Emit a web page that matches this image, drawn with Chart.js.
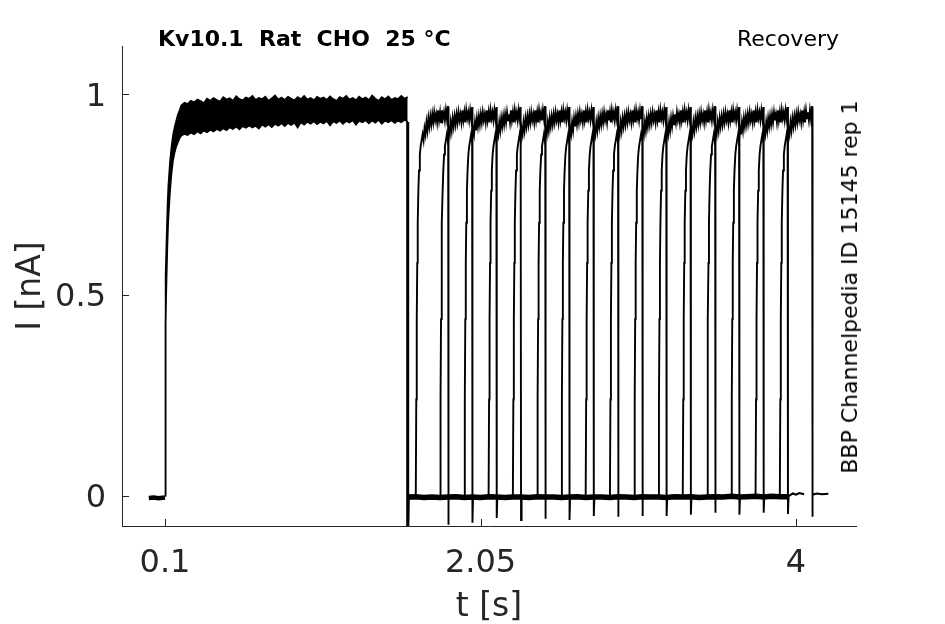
<!DOCTYPE html>
<html lang="en">
<head>
    <meta charset="UTF-8">
    <title>Kv10.1 Recovery</title>
    <script src="https://cdn.jsdelivr.net/npm/chart.js@4.4.0/dist/chart.umd.min.js"></script>
    <style>
        * { box-sizing: border-box; }
        body { margin: 0; background: #fff; }
        #wrap { position: relative; width: 945px; height: 624px; }
        .note { position: absolute; font-family: "DejaVu Sans", sans-serif; font-size: 22px;
                line-height: 22px; white-space: pre; color: #000; }
        #title { left: 158px; top: 28px; font-weight: bold; }
        #rec { right: 106px; top: 28px; }
        #side { left: 850px; top: 287px; transform: translate(-50%, -50%) rotate(-90deg); }
    </style>
</head>
<body>
<div id="wrap">
    <canvas id="chart" width="945" height="624"></canvas>
    <div class="note" id="title">Kv10.1  Rat  CHO  25 °C</div>
    <div class="note" id="rec">Recovery</div>
    <div class="note" id="side">BBP Channelpedia ID 15145 rep 1</div>
</div>

<script>
    // ---- data (time in s, current in nA) ----
    const xTicks = [0.1, 2.05, 4];
    const yTicks = [0, 0.5, 1];

    // prepulse: upper and lower edge of the overlaid sweeps
    const prepulseTimes = [0.1, 0.101, 0.103, 0.106, 0.11, 0.115, 0.12, 0.13, 0.14, 0.15, 0.16, 0.17, 0.18, 0.19,
        0.20, 0.22, 0.24, 0.26, 0.28, 0.30, 0.32, 0.34, 0.36, 0.38, 0.40, 0.42, 0.44, 0.46, 0.48,
        0.50, 0.52, 0.54, 0.56, 0.58, 0.60, 0.62, 0.64, 0.66, 0.68, 0.70, 0.72, 0.74, 0.76, 0.78,
        0.80, 0.82, 0.84, 0.86, 0.88, 0.90, 0.92, 0.94, 0.96, 0.98, 1.00, 1.02, 1.04, 1.06, 1.08,
        1.10, 1.12, 1.14, 1.16, 1.18, 1.20, 1.22, 1.24, 1.26, 1.28, 1.30, 1.32, 1.34, 1.36, 1.38,
        1.40, 1.42, 1.44, 1.46, 1.48, 1.50, 1.52, 1.54, 1.56, 1.58, 1.60];
    const prepulseUpper = [0, 0.22, 0.40, 0.55, 0.65, 0.72, 0.77, 0.83, 0.87, 0.90, 0.92, 0.935, 0.95, 0.96,
        0.972, 0.979, 0.976, 0.984, 0.980, 0.987, 0.983, 0.978, 0.989, 0.984, 0.991, 0.986, 0.982, 0.993, 0.987,
        0.990, 0.984, 0.995, 0.988, 0.985, 0.992, 0.989, 0.996, 0.986, 0.991, 0.988, 0.994, 0.984, 0.990, 0.997,
        0.987, 0.992, 0.986, 0.994, 0.989, 0.985, 0.993, 0.988, 0.996, 0.987, 0.991, 0.985, 0.994, 0.989, 0.992,
        0.986, 0.995, 0.988, 0.984, 0.993, 0.989, 0.996, 0.987, 0.991, 0.985, 0.994, 0.988, 0.992, 0.986, 0.997,
        0.989, 0.984, 0.993, 0.988, 0.995, 0.986, 0.991, 0.988, 0.996, 0.989, 0.993];
    const prepulseLower = [0, 0.15, 0.30, 0.43, 0.54, 0.62, 0.68, 0.75, 0.80, 0.835, 0.855, 0.87, 0.88, 0.89,
        0.896, 0.901, 0.898, 0.904, 0.900, 0.907, 0.902, 0.909, 0.905, 0.911, 0.907, 0.913, 0.909, 0.915, 0.910,
        0.917, 0.913, 0.919, 0.912, 0.920, 0.916, 0.922, 0.917, 0.921, 0.914, 0.924, 0.919, 0.925, 0.918, 0.926,
        0.921, 0.927, 0.920, 0.928, 0.923, 0.929, 0.917, 0.930, 0.924, 0.931, 0.926, 0.932, 0.925, 0.931, 0.927,
        0.933, 0.922, 0.932, 0.928, 0.934, 0.926, 0.933, 0.929, 0.935, 0.924, 0.933, 0.930, 0.935, 0.927, 0.934,
        0.929, 0.936, 0.926, 0.934, 0.930, 0.935, 0.928, 0.934, 0.930, 0.936, 0.931];

    // holding level before the prepulse
    const preBaseTimes = [0.0, 0.03, 0.06, 0.1];
    const preBaseValues = [-0.005, -0.004, -0.006, -0.004];

    // holding level after the prepulse (all sweeps overlaid)
    const baseTimes = [1.60, 1.65, 1.70, 1.75, 1.80, 1.85, 1.90, 1.95, 2.00, 2.05, 2.10, 2.15, 2.20, 2.25, 2.30, 2.35,
        2.40, 2.45, 2.50, 2.55, 2.60, 2.65, 2.70, 2.75, 2.80, 2.85, 2.90, 2.95, 3.00, 3.05, 3.10, 3.15,
        3.20, 3.25, 3.30, 3.35, 3.40, 3.45, 3.50, 3.55, 3.60, 3.65, 3.70, 3.75, 3.80, 3.85, 3.90, 3.95];
    const baseValues = [-0.003, -0.002, -0.004, -0.003, -0.004, -0.003, -0.002, -0.004, -0.003, -0.004, -0.002, -0.003,
        -0.004, -0.003, -0.003, -0.004, -0.002, -0.003, -0.003, -0.004, -0.003, -0.002, -0.004, -0.003,
        -0.003, -0.004, -0.002, -0.003, -0.004, -0.002, -0.003, -0.003, -0.004, -0.002, -0.003, -0.002,
        -0.004, -0.003, -0.002, -0.003, -0.001, -0.003, -0.002, -0.001, -0.003, -0.001, -0.002, -0.002];
    // last two sweeps only
    const endBaseTimes = [3.95, 3.98, 4.00, 4.02, 4.05, null, 4.10, 4.13, 4.16, 4.20];
    const endBaseValues = [-0.002, 0.006, 0.003, 0.007, 0.004, null, 0.003, 0.006, 0.004, 0.005];

    // prepulse end (tail goes off the axis)
    const prepulseOff = 1.6;
    const prepulseTail = -0.1;

    // test pulses: start time of each sweep, tail minimum after each pulse
    const testStarts = [1.65, 1.80, 1.95, 2.10, 2.25, 2.40, 2.55, 2.70, 2.85, 3.00, 3.15, 3.30, 3.45, 3.60, 3.75, 3.90];
    const testTails = [-0.072, -0.067, -0.055, -0.060, -0.057, -0.060, -0.050, -0.052,
        -0.050, -0.050, -0.047, -0.042, -0.047, -0.042, -0.045, -0.052];
    // one test-pulse trace, time relative to its start
    const testOffsets = [0, 0.003, 0.006, 0.009, 0.012, 0.016, 0.020, 0.025, 0.030, 0.036,
        0.042, 0.048, 0.054, 0.060, 0.066, 0.072, 0.078, 0.084, 0.090, 0.096,
        0.102, 0.108, 0.114, 0.120, 0.126, 0.132, 0.138, 0.144, 0.150, 0.156,
        0.162, 0.168, 0.174, 0.180, 0.186, 0.192, 0.198, 0.200];
    const testCurrent = [0, 0.24, 0.44, 0.58, 0.68, 0.76, 0.81, 0.85, 0.87, 0.885,
        0.90, 0.885, 0.915, 0.90, 0.93, 0.91, 0.94, 0.92, 0.945, 0.925,
        0.95, 0.93, 0.955, 0.935, 0.95, 0.93, 0.96, 0.935, 0.955, 0.93,
        0.96, 0.94, 0.955, 0.935, 0.96, 0.94, 0.968, 0.968];

    const axisColor = "#262626";
    const traceColor = "#000";

    const pts = (xs, ys) => xs.map((x, i) => ({ x: x, y: ys[i] }));

    function trace(data, width) {
        return { data: data, borderColor: traceColor, borderWidth: width, pointRadius: 0,
                 tension: 0, fill: false, spanGaps: false };
    }

    const datasets = [];
    datasets.push(trace(pts(prepulseTimes, prepulseUpper), 1.5));
    datasets.push(Object.assign(trace(pts(prepulseTimes, prepulseLower), 1.5),
        { fill: "-1", backgroundColor: traceColor }));
    datasets.push(trace(pts(preBaseTimes, preBaseValues), 4.5));
    datasets.push(trace(pts(baseTimes, baseValues), 5.5));
    datasets.push(trace(pts(endBaseTimes, endBaseValues), 2));
    datasets.push(trace([
        { x: prepulseOff, y: prepulseLower[prepulseLower.length - 1] },
        { x: prepulseOff, y: prepulseTail },
        { x: prepulseOff + 0.004, y: -0.003 }
    ], 3));

    testStarts.forEach((t0, k) => {
        const d = testOffsets.map((o, i) => ({ x: t0 + o, y: testCurrent[i] }));
        const tEnd = t0 + testOffsets[testOffsets.length - 1];
        d.push({ x: tEnd + 0.0005, y: testTails[k] });
        d.push({ x: tEnd + 0.004, y: -0.002 });
        datasets.push(trace(d, 1.9));
    });

    // MATLAB style ticks drawn inside the axes
    const innerTicks = {
        id: "innerTicks",
        afterDraw(chart) {
            const { ctx, chartArea: a, scales: { x, y } } = chart;
            ctx.save();
            ctx.strokeStyle = axisColor;
            ctx.lineWidth = 1;
            ctx.beginPath();
            xTicks.forEach(v => {
                const px = Math.round(x.getPixelForValue(v)) + 0.5;
                ctx.moveTo(px, a.bottom);
                ctx.lineTo(px, a.bottom - 7);
            });
            yTicks.forEach(v => {
                const py = Math.round(y.getPixelForValue(v)) + 0.5;
                ctx.moveTo(a.left, py);
                ctx.lineTo(a.left + 7, py);
            });
            ctx.stroke();
            ctx.restore();
        }
    };

    const tickFont = { family: "DejaVu Sans", size: 32 };
    const titleFont = { family: "DejaVu Sans", size: 33 };

    new Chart(document.getElementById("chart"), {
        type: "line",
        data: { datasets: datasets },
        options: {
            responsive: false,
            animation: false,
            events: [],
            layout: { padding: { top: 46, right: 89, left: 0, bottom: 0 } },
            plugins: { legend: { display: false }, tooltip: { enabled: false } },
            scales: {
                x: {
                    type: "linear",
                    min: -0.1658,
                    max: 4.3708,
                    afterBuildTicks: s => { s.ticks = xTicks.map(v => ({ value: v })); },
                    afterFit: s => { s.height = 98; },
                    grid: { display: false },
                    border: { display: true, color: axisColor, width: 1 },
                    ticks: { font: tickFont, color: axisColor, padding: 10, maxRotation: 0,
                             callback: v => String(v) },
                    title: { display: true, text: "t [s]", font: titleFont, color: axisColor,
                             padding: { top: 0, bottom: -3 } }
                },
                y: {
                    type: "linear",
                    min: -0.075,
                    max: 1.12,
                    afterBuildTicks: s => { s.ticks = yTicks.map(v => ({ value: v })); },
                    afterFit: s => { s.width = 122; },
                    grid: { display: false },
                    border: { display: true, color: axisColor, width: 1 },
                    ticks: { font: tickFont, color: axisColor, padding: 8, labelOffset: 3,
                             callback: v => String(v) },
                    title: { display: true, text: "I [nA]", font: titleFont, color: axisColor,
                             padding: { top: 12, bottom: 0 } }
                }
            }
        },
        plugins: [innerTicks]
    });
</script>
</body>
</html>
